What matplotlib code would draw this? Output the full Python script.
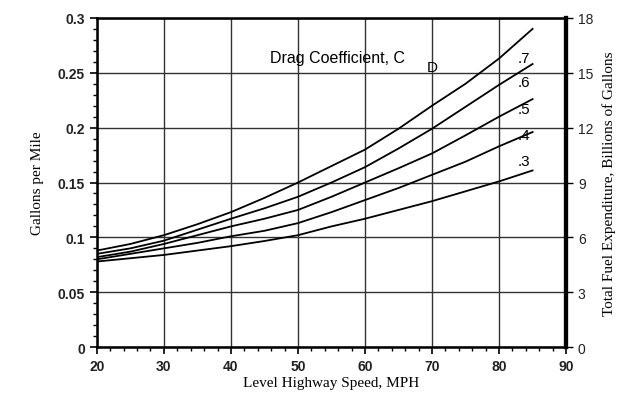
import numpy as np
import matplotlib.pyplot as plt
from matplotlib.ticker import MultipleLocator

# speed (MPH) and gallons per mile for each drag coefficient
speed = [20, 25, 30, 35, 40, 45, 50, 55, 60, 65, 70, 75, 80, 85]
gpm_07 = [0.088, 0.094, 0.102, 0.112, 0.123, 0.136, 0.150, 0.165, 0.180, 0.199, 0.220, 0.240, 0.263, 0.290]
gpm_06 = [0.085, 0.090, 0.097, 0.107, 0.117, 0.1265, 0.137, 0.150, 0.164, 0.181, 0.199, 0.219, 0.239, 0.258]
gpm_05 = [0.082, 0.087, 0.094, 0.102, 0.110, 0.117, 0.125, 0.137, 0.150, 0.163, 0.1765, 0.193, 0.210, 0.226]
gpm_04 = [0.080, 0.085, 0.090, 0.095, 0.101, 0.106, 0.113, 0.123, 0.134, 0.145, 0.157, 0.169, 0.183, 0.196]
gpm_03 = [0.078, 0.081, 0.084, 0.088, 0.092, 0.0967, 0.102, 0.110, 0.117, 0.125, 0.133, 0.142, 0.151, 0.161]
curve_labels = [".7", ".6", ".5", ".4", ".3"]
label_y = [0.2635, 0.2417, 0.217, 0.1933, 0.1696]

fig = plt.figure(figsize=(6.29, 4.02), dpi=100)
ax = fig.add_axes([0.154, 0.134, 0.746, 0.819])

for g in [gpm_07, gpm_06, gpm_05, gpm_04, gpm_03]:
    ax.plot(speed, g, color="black", lw=1.3)

for lab, y in zip(curve_labels, label_y):
    ax.text(83.7, y, lab, fontsize=11, ha="center", va="center",
            family="Liberation Sans")

ax.text(45.8, 0.2635, "Drag Coefficient, C", fontsize=11.5, va="center",
        family="Liberation Sans")
ax.text(70.0, 0.2555, "D", fontsize=11, va="center", ha="center",
        family="Liberation Sans")

ax.set_xlim(20, 90)
ax.set_ylim(0, 0.3)
ax.xaxis.set_major_locator(MultipleLocator(10))
ax.xaxis.set_minor_locator(MultipleLocator(2))
ax.yaxis.set_minor_locator(MultipleLocator(0.01))
ax.set_yticks([0, 0.05, 0.1, 0.15, 0.2, 0.25, 0.3])
ax.set_yticklabels(["0", "0.05", "0.1", "0.15", "0.2", "0.25", "0.3"])
ax.grid(True, which="major", color="#333333", lw=1.0)
ax.tick_params(which="major", length=5, width=1.2, labelsize=10)
ax.tick_params(which="minor", length=3, width=1.0)
for lbl in ax.get_xticklabels() + ax.get_yticklabels():
    lbl.set_family("Liberation Sans")
    lbl.set_fontweight("bold")
    lbl.set_color("#222222")

ax.set_xlabel("Level Highway Speed, MPH", family="Liberation Serif",
              fontsize=11, labelpad=2)
ax.set_ylabel("Gallons per Mile", family="Liberation Serif", fontsize=11,
              labelpad=10)

for side in ["left", "bottom", "top"]:
    ax.spines[side].set_linewidth(1.8)
ax.spines["right"].set_linewidth(3)

# right axis: total fuel expenditure
ax2 = ax.twinx()
ax2.set_ylim(0, 18)
ax2.yaxis.set_major_locator(MultipleLocator(3))
ax2.tick_params(length=5, width=1.0, labelsize=10)
for lbl in ax2.get_yticklabels():
    lbl.set_family("Liberation Sans")
    lbl.set_color("#222222")
ax2.spines["right"].set_linewidth(3)
ax2.set_ylabel("Total Fuel Expenditure, Billions of Gallons",
               family="Liberation Serif", fontsize=11, labelpad=6)

fig.savefig("out.png", dpi=100)
